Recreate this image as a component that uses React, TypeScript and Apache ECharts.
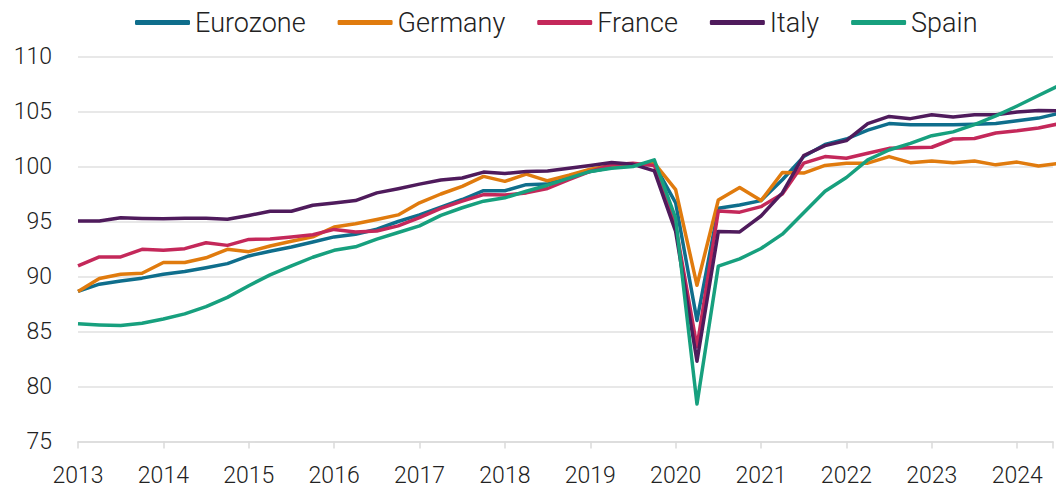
import React, { useEffect, useRef } from "react";
import * as echarts from "echarts";

// Quarterly index values, 2013Q1 .. 2024Q3
const startYear = 2013;
const seriesNames = ["Eurozone", "Germany", "France", "Italy", "Spain"];
const colors = ["#0F6E8C", "#E07B0E", "#C4285A", "#4F1B5C", "#17A07E"];

const eurozone = [
  88.64, 89.3, 89.6, 89.85, 90.2, 90.45, 90.8, 91.17, 91.87, 92.3, 92.68, 93.13,
  93.6, 93.84, 94.3, 95.0, 95.6, 96.3, 97.0, 97.8, 97.8, 98.35, 98.4, 99.1,
  99.55, 99.9, 100.1, 100.2, 96.7, 86.0, 96.2, 96.5, 96.9, 98.8, 100.9, 102.0,
  102.5, 103.3, 103.9, 103.8, 103.8, 103.8, 103.85, 103.9, 104.15, 104.4, 104.85,
];
const germany = [
  88.64, 89.82, 90.2, 90.3, 91.27, 91.27, 91.7, 92.47, 92.26, 92.77, 93.2, 93.6,
  94.5, 94.8, 95.18, 95.6, 96.7, 97.5, 98.2, 99.1, 98.65, 99.3, 98.7, 99.2,
  99.76, 100.09, 100.09, 100.3, 97.9, 89.2, 96.95, 98.1, 96.9, 99.45, 99.4, 100.1,
  100.3, 100.3, 100.9, 100.35, 100.5, 100.35, 100.5, 100.15, 100.4, 100.05, 100.3,
];
const france = [
  90.96, 91.78, 91.78, 92.47, 92.38, 92.53, 93.07, 92.83, 93.37, 93.4, 93.6, 93.8,
  94.28, 94.04, 94.13, 94.6, 95.35, 96.2, 96.85, 97.45, 97.4, 97.6, 98.0, 98.8,
  99.55, 100.15, 100.3, 100.1, 94.6, 83.6, 95.95, 95.85, 96.35, 97.5, 100.3, 100.9,
  100.75, 101.2, 101.65, 101.7, 101.75, 102.5, 102.55, 103.05, 103.25, 103.5, 103.9,
];
const italy = [
  95.05, 95.05, 95.35, 95.28, 95.25, 95.3, 95.3, 95.2, 95.55, 95.93, 95.93, 96.48,
  96.68, 96.9, 97.6, 97.98, 98.4, 98.77, 98.95, 99.49, 99.37, 99.55, 99.6, 99.85,
  100.09, 100.36, 100.2, 99.6, 94.1, 82.3, 94.1, 94.05, 95.5, 97.6, 101.0, 101.9,
  102.35, 103.9, 104.55, 104.35, 104.7, 104.5, 104.7, 104.7, 104.95, 105.1, 105.05,
];
const spain = [
  85.7, 85.6, 85.54, 85.75, 86.14, 86.6, 87.26, 88.1, 89.16, 90.15, 90.96, 91.75,
  92.38, 92.7, 93.4, 94.0, 94.6, 95.56, 96.25, 96.85, 97.15, 97.75, 98.3, 98.95,
  99.55, 99.85, 100.0, 100.6, 95.3, 78.4, 90.95, 91.6, 92.55, 93.85, 95.8, 97.75,
  99.0, 100.6, 101.5, 102.1, 102.8, 103.15, 103.8, 104.6, 105.5, 106.45, 107.4,
];
const allValues = [eurozone, germany, france, italy, spain];

const FONT = "Roboto";

export default function App() {
  const ref = useRef<HTMLDivElement>(null);
  useEffect(() => {
    if (!ref.current) return;
    const chart = echarts.init(ref.current, undefined, { renderer: "svg" });
    const series = seriesNames.map((name, k) => ({
      name,
      type: "line",
      data: allValues[k].map((v, i) => [startYear + i / 4, v]),
      showSymbol: false,
      symbol: "none",
      lineStyle: { width: 3.5, color: colors[k], join: "round" },
      itemStyle: { color: colors[k] },
      clip: true,
    }));
    chart.setOption({
      animation: false,
      backgroundColor: "#ffffff",
      textStyle: { fontFamily: FONT },
      legend: {
        left: 130,
        top: 4,
        icon: "roundRect",
        itemWidth: 55,
        itemHeight: 5,
        itemGap: 32,
        textStyle: { fontSize: 27, fontWeight: 300, color: "#222", fontFamily: FONT },
        data: seriesNames,
      },
      grid: { left: 78, right: 0, top: 56.5, bottom: 45.5, containLabel: false },
      xAxis: {
        type: "value",
        min: 2013,
        max: 2024.42,
        interval: 1,
        axisLine: { show: true, lineStyle: { color: "#dadada", width: 1.5 } },
        axisTick: { show: true, length: 7, lineStyle: { color: "#dadada", width: 1.5 } },
        splitLine: { show: false },
        axisLabel: {
          fontSize: 23,
          fontWeight: 300,
          color: "#222",
          fontFamily: FONT,
          margin: 22,
          formatter: (v: number) => (Number.isInteger(v) ? String(v) : ""),
        },
      },
      yAxis: {
        type: "value",
        min: 75,
        max: 110,
        interval: 5,
        axisLine: { show: false },
        axisTick: { show: false },
        splitLine: { show: true, lineStyle: { color: "#e0e0e0", width: 1.5 } },
        axisLabel: { fontSize: 23, fontWeight: 300, color: "#222", fontFamily: FONT, margin: 26 },
      },
      series,
    });
    return () => chart.dispose();
  }, []);
  return (
    <div
      ref={ref}
      style={{ position: "absolute", left: 0, top: 0, width: 1056, height: 487 }}
    />
  );
}
